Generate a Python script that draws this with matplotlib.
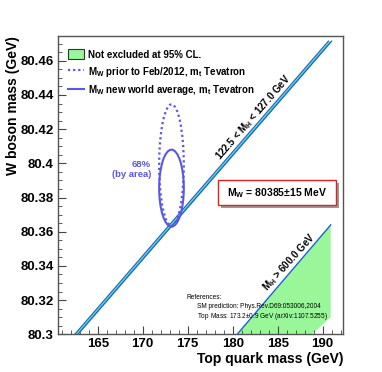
import numpy as np
import matplotlib
matplotlib.use("Agg")
import matplotlib.pyplot as plt
from matplotlib.patches import Ellipse, Patch, Rectangle
from matplotlib.lines import Line2D

plt.rcParams['font.family'] = ['Liberation Sans', 'DejaVu Sans']
plt.rcParams['font.weight'] = 'bold'
plt.rcParams['mathtext.default'] = 'regular'

# ---- data ----
mt_lim = [160.55, 192.3]
mw_lim = [80.30, 80.4745]
mt_ticks = [165, 170, 175, 180, 185, 190]
mw_ticks = [80.30, 80.32, 80.34, 80.36, 80.38, 80.40, 80.42, 80.44, 80.46]
mw_ticklabels = ["80.3", "80.32", "80.34", "80.36", "80.38", "80.4", "80.42", "80.44", "80.46"]

# SM band 122.5 < MH < 127 GeV (two edges)
band_mw = [80.300, 80.4715]
band_mt_lo = [162.45, 190.65]
band_mt_hi = [162.80, 191.00]

# MH > 600 GeV region (not excluded at 95% CL)
excl_mt = [180.5, 190.9, 190.9, 188.8]
excl_mw = [80.300, 80.364, 80.310, 80.300]

# 68% ellipses: centre mt, centre mw, half-width mt, half-height mw
old_ell = [173.2, 80.399, 1.37, 0.0355]
new_ell = [173.2, 80.3855, 1.37, 0.0225]

blue = '#5858e2'
edge_blue = '#1f5fe0'
green = '#99f799'

fig = plt.figure(figsize=(3.82, 3.72), dpi=100)
ax = fig.add_axes([0.151, 0.1013, 0.7477, 0.8019])

# green region
ax.fill(excl_mt, excl_mw, color=green, lw=0, zorder=1)
ax.plot(excl_mt[:2], excl_mw[:2], color=edge_blue, lw=1, zorder=2)

# SM band
ax.fill_betweenx(band_mw, band_mt_lo, band_mt_hi, color='#55e890', lw=0, zorder=2)
ax.plot(band_mt_lo, band_mw, color=edge_blue, lw=0.9, zorder=3)
ax.plot(band_mt_hi, band_mw, color=edge_blue, lw=0.9, zorder=3)

# ellipses
e1 = Ellipse((old_ell[0], old_ell[1]), 2 * old_ell[2], 2 * old_ell[3], fill=False,
             ec=blue, lw=1.6, ls=(0, (1, 1.3)), zorder=4)
e2 = Ellipse((new_ell[0], new_ell[1]), 2 * new_ell[2], 2 * new_ell[3], fill=False,
             ec=blue, lw=1.5, zorder=4)
ax.add_patch(e1)
ax.add_patch(e2)

ax.text(170.95, 80.3965, "68%\n(by area)", color=blue, fontsize=6.8, ha='right', va='center',
        linespacing=1.15)

# rotated labels
ax.text(182.3, 80.427, "122.5 < M$_H$ < 127.0 GeV", rotation=49, fontsize=7,
        ha='center', va='center')
ax.text(186.3, 80.342, "M$_H$ > 600.0 GeV", rotation=48, fontsize=7,
        ha='center', va='center')

# MW box with shadow
ax.add_patch(Rectangle((0.571, 0.423), 0.413, 0.084, transform=ax.transAxes,
                       fc='#999999', ec='none', zorder=5))
ax.add_patch(Rectangle((0.561, 0.433), 0.413, 0.084, transform=ax.transAxes,
                       fc='white', ec='#dd2222', lw=1, zorder=6))
ax.text(0.7675, 0.475, "M$_W$ = 80385$\\pm$15 MeV", transform=ax.transAxes,
        fontsize=7.5, ha='center', va='center', zorder=7)

# references
ax.text(0.452, 0.125, "References:", transform=ax.transAxes, fontsize=4.7,
        fontweight='normal', va='center')
ax.text(0.487, 0.092, "SM prediction: Phys.Rev.D69:053006,2004", transform=ax.transAxes,
        fontsize=4.7, fontweight='normal', va='center')
ax.text(0.487, 0.061, "Top Mass: 173.2$\\pm$0.9 GeV (arXiv:1107.5255)", transform=ax.transAxes,
        fontsize=4.7, fontweight='normal', va='center')

# legend
handles = [Patch(fc=green, ec='#333333', lw=0.8),
           Line2D([], [], color=blue, lw=1.6, ls=(0, (1, 1.3))),
           Line2D([], [], color=blue, lw=1.5)]
labels = ["Not excluded at 95% CL.",
          "M$_W$ prior to Feb/2012, m$_t$ Tevatron",
          "M$_W$ new world average, m$_t$ Tevatron"]
ax.legend(handles, labels, loc='upper left', bbox_to_anchor=(0.036, 0.955),
          frameon=False, borderpad=0, borderaxespad=0,
          handlelength=1.6, handleheight=1.2, handletextpad=0.45, labelspacing=0.5,
          prop={'weight': 'bold', 'size': 7})

ax.set_xlim(mt_lim)
ax.set_ylim(mw_lim)
ax.set_xticks(mt_ticks)
ax.set_yticks(mw_ticks)
ax.set_yticklabels(mw_ticklabels)
ax.set_xticks(np.arange(161, 193, 1), minor=True)
ax.set_yticks(np.arange(80.30, 80.4746, 0.005), minor=True)
ax.tick_params(which='both', direction='in', top=False, right=False, labelsize=9.5,
               color='#444444', pad=3)
ax.tick_params(which='major', length=6)
ax.tick_params(which='minor', length=3)
for s in ax.spines.values():
    s.set_color('#555555')
    s.set_linewidth(1)

ax.set_xlabel("Top quark mass (GeV)", fontsize=10, fontweight='bold', loc='right', labelpad=1)
fig.text(13 / 382, 1 - 36 / 372, "W boson mass (GeV)", rotation=90, fontsize=10,
         fontweight='bold', ha='center', va='top')

fig.savefig("out.png", dpi=100)
